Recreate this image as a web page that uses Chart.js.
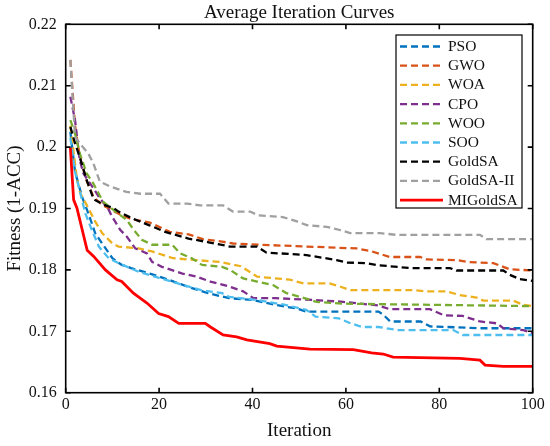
<!DOCTYPE html>
<html>
<head>
<meta charset="utf-8">
<script src="https://cdn.jsdelivr.net/npm/chart.js@4.4.1/dist/chart.umd.min.js"></script>
<style>
  body { margin: 0; background: #fff; }
  #wrap { width: 550px; height: 446px; position: relative; }
</style>
</head>
<body>
<div id="wrap"><canvas id="myChart"></canvas></div>
<script>
// values (iteration, fitness)
const psoIt = [1, 2, 3.5, 5, 6.3, 7.8, 10, 12, 14, 18, 22, 26, 30.5, 35, 40, 45, 49.5, 51.5, 67, 68, 69.5, 76, 78, 89, 100];
const psoFit = [0.2025, 0.196, 0.1919, 0.1889, 0.186, 0.1843, 0.1819, 0.1808, 0.1803, 0.1794, 0.1784, 0.1773, 0.1762, 0.1754, 0.1751, 0.1743, 0.1737, 0.1732, 0.1732, 0.1727, 0.1716, 0.1716, 0.1708, 0.1705, 0.1705];

const gwoIt = [1, 2, 3, 4.5, 6, 8, 10, 12, 14, 18, 20.6, 22.3, 26.3, 29.4, 33.5, 35.8, 41.6, 51.6, 62.3, 65.2, 69.4, 75.9, 77.3, 83.7, 85.9, 91.6, 95.1, 100];
const gwoFit = [0.2142, 0.2035, 0.1985, 0.1945, 0.1918, 0.1905, 0.1897, 0.1889, 0.1883, 0.1877, 0.1868, 0.1862, 0.1858, 0.185, 0.1846, 0.1843, 0.1841, 0.1838, 0.1835, 0.1831, 0.1821, 0.1821, 0.1817, 0.1816, 0.1813, 0.1811, 0.1801, 0.1799];

const woaIt = [1, 2.4, 3.1, 4.9, 6.3, 7.8, 10, 11.3, 15.6, 18.5, 23, 28, 33, 37.5, 41, 48, 51, 56.5, 58.7, 61, 74.5, 77.3, 81.5, 84.4, 88, 89.4, 95.8, 98, 100];
const woaFit = [0.2035, 0.1949, 0.1925, 0.19, 0.1879, 0.186, 0.1843, 0.1838, 0.1835, 0.183, 0.1819, 0.1816, 0.1813, 0.1806, 0.1789, 0.1784, 0.1778, 0.1778, 0.1773, 0.1767, 0.1767, 0.1765, 0.1765, 0.1759, 0.1755, 0.175, 0.175, 0.1743, 0.1741];

const cpoIt = [1, 2, 3, 3.8, 6, 7.1, 9.2, 9.9, 11.7, 13.1, 14.9, 17.4, 18.5, 20.6, 25, 28, 31, 35, 38, 40.2, 45, 53, 59.4, 67, 69.4, 78, 81, 85, 88.7, 92.3, 93.7, 98, 100];
const cpoFit = [0.2082, 0.2044, 0.1979, 0.1957, 0.1932, 0.1919, 0.1898, 0.1887, 0.1865, 0.1854, 0.1835, 0.1827, 0.1813, 0.1805, 0.1794, 0.1789, 0.1781, 0.1773, 0.1765, 0.1754, 0.1754, 0.1751, 0.1748, 0.1742, 0.1736, 0.1736, 0.1726, 0.1725, 0.1716, 0.1713, 0.1705, 0.1702, 0.1697];

const wooIt = [1, 2, 3, 4.5, 5.9, 8, 11, 13.1, 14.6, 16.3, 18.5, 22.8, 24.5, 27, 29.2, 33.5, 35.2, 38, 41, 44.5, 47.3, 50.2, 53.7, 59.4, 100];
const wooFit = [0.2044, 0.2022, 0.199, 0.1957, 0.1941, 0.1911, 0.1893, 0.1881, 0.1865, 0.1849, 0.1841, 0.1841, 0.1827, 0.1819, 0.1808, 0.1805, 0.18, 0.1786, 0.1781, 0.1775, 0.1762, 0.1756, 0.1748, 0.1745, 0.1741];

const sooIt = [1, 2, 4.2, 5.6, 7.1, 9.2, 11.3, 15.6, 20, 24, 29, 33.5, 35, 41, 47, 51.5, 53.5, 58.5, 61, 63.5, 67, 71, 83, 85, 100];
const sooFit = [0.2015, 0.196, 0.1892, 0.1865, 0.1838, 0.1819, 0.1811, 0.1797, 0.1787, 0.1778, 0.1767, 0.1762, 0.1756, 0.1751, 0.1743, 0.1735, 0.1724, 0.1721, 0.1713, 0.1707, 0.1707, 0.1702, 0.1702, 0.1694, 0.1694];

const goldIt = [1, 2, 3, 4.5, 6, 8.5, 10.2, 11.3, 14.2, 17.8, 21.3, 26.3, 30.6, 35.2, 41, 43, 48, 51.6, 58, 60.2, 64.5, 66.6, 69.4, 73.7, 82.3, 83.7, 93.7, 95.1, 97.2, 100];
const goldFit = [0.2033, 0.2006, 0.1984, 0.1946, 0.1915, 0.1905, 0.1901, 0.1895, 0.1884, 0.1873, 0.1862, 0.1851, 0.1845, 0.1838, 0.1838, 0.1828, 0.1826, 0.1824, 0.1816, 0.1812, 0.1811, 0.1808, 0.1806, 0.1803, 0.1803, 0.1799, 0.1799, 0.1792, 0.1785, 0.1782];

const gold2It = [1, 2, 3, 4.8, 5.9, 7.3, 9.5, 13, 16, 20.2, 22, 26, 28.8, 33.7, 35.8, 39.5, 41.2, 46.5, 49.5, 51.6, 55.9, 58.7, 60.9, 67.3, 70.9, 88.7, 90.1, 100];
const gold2Fit = [0.2142, 0.2017, 0.2006, 0.199, 0.1974, 0.1944, 0.1936, 0.1927, 0.1924, 0.1924, 0.1908, 0.1908, 0.1905, 0.1905, 0.1895, 0.1895, 0.1889, 0.1886, 0.1879, 0.1873, 0.187, 0.1865, 0.186, 0.186, 0.1857, 0.1857, 0.185, 0.185];

const migoldIt = [1, 1.7, 2.4, 4.6, 6, 8.5, 11, 12, 14.5, 17.4, 19.9, 22, 24.2, 29.9, 31, 33.7, 36.6, 38.8, 43.7, 45.2, 52.3, 61.6, 65.5, 68, 70.1, 84.4, 88.7, 89.8, 93.7, 100];
const migoldFit = [0.1999, 0.1914, 0.1901, 0.1832, 0.1822, 0.18, 0.1784, 0.1781, 0.1762, 0.1746, 0.1729, 0.1724, 0.1713, 0.1713, 0.1707, 0.1694, 0.1691, 0.1686, 0.168, 0.1676, 0.1671, 0.167, 0.1665, 0.1663, 0.1658, 0.1656, 0.1653, 0.1645, 0.1643, 0.1643];

const labels = ["PSO", "GWO", "WOA", "CPO", "WOO", "SOO", "GoldSA", "GoldSA-II", "MIGoldSA"];
const colors = ["#0072BD", "#D95319", "#EDB120", "#7E2F8E", "#77AC30", "#4DBEEE", "#000000", "#A0A0A0", "#FF0000"];
const xTicks = [0, 20, 40, 60, 80, 100];
const yTicks = [0.16, 0.17, 0.18, 0.19, 0.2, 0.21, 0.22];

const serif = "'Liberation Serif', 'Times New Roman', serif";

function pts(xs, ys) {
    return xs.map((v, i) => ({ x: v, y: ys[i] }));
}

const series = [
    pts(psoIt, psoFit), pts(gwoIt, gwoFit), pts(woaIt, woaFit),
    pts(cpoIt, cpoFit), pts(wooIt, wooFit), pts(sooIt, sooFit),
    pts(goldIt, goldFit), pts(gold2It, gold2Fit), pts(migoldIt, migoldFit)
];

const datasets = series.map((d, i) => {
    const solid = labels[i] === "MIGoldSA";
    return {
        label: labels[i],
        data: d,
        borderColor: colors[i],
        borderWidth: solid ? 2.8 : 2.3,
        borderDash: solid ? [] : [7, 4],
        pointRadius: 0,
        tension: 0,
        fill: false,
        order: labels.length - i
    };
});

// MATLAB style box with inward ticks + legend inside the axes
const boxPlugin = {
    id: "box",
    afterDraw(chart) {
        const { ctx, chartArea: a, scales } = chart;
        ctx.save();
        ctx.strokeStyle = "#000";
        ctx.lineWidth = 1.6;
        ctx.strokeRect(a.left, a.top, a.right - a.left, a.bottom - a.top);
        ctx.beginPath();
        xTicks.forEach(v => {
            const px = scales.x.getPixelForValue(v);
            ctx.moveTo(px, a.bottom); ctx.lineTo(px, a.bottom - 5);
            ctx.moveTo(px, a.top); ctx.lineTo(px, a.top + 5);
        });
        yTicks.forEach(v => {
            const py = scales.y.getPixelForValue(v);
            ctx.moveTo(a.left, py); ctx.lineTo(a.left + 5, py);
            ctx.moveTo(a.right, py); ctx.lineTo(a.right - 5, py);
        });
        ctx.stroke();

        // legend
        const lx = 396, ly = 35, lw = 126, lh = 173;
        ctx.fillStyle = "#fff";
        ctx.fillRect(lx, ly, lw, lh);
        ctx.lineWidth = 1.2;
        ctx.strokeRect(lx, ly, lw, lh);
        ctx.font = "15.5px " + serif;
        ctx.textBaseline = "middle";
        ctx.textAlign = "left";
        chart.data.datasets.forEach((ds, i) => {
            const yy = ly + 11.5 + i * 19.2;
            ctx.strokeStyle = ds.borderColor;
            ctx.lineWidth = ds.borderWidth;
            ctx.setLineDash(ds.borderDash);
            ctx.beginPath();
            ctx.moveTo(lx + 4, yy);
            ctx.lineTo(lx + 47, yy);
            ctx.stroke();
            ctx.setLineDash([]);
            ctx.fillStyle = "#111";
            ctx.fillText(ds.label, lx + 52, yy + 0.5);
        });
        ctx.restore();
    }
};

new Chart("myChart", {
    type: "line",
    data: { datasets: datasets },
    options: {
        responsive: true,
        maintainAspectRatio: false,
        animation: false,
        layout: { padding: { left: 0, right: 17.3, top: 0, bottom: 0 } },
        plugins: {
            legend: { display: false },
            tooltip: { enabled: false },
            title: {
                display: true,
                text: "Average Iteration Curves",
                fullSize: false,
                color: "#111",
                font: { family: serif, size: 19, weight: "normal", lineHeight: 1.1 },
                padding: { top: 3, bottom: 0.4 }
            }
        },
        scales: {
            x: {
                type: "linear",
                min: 0,
                max: 100,
                afterBuildTicks: s => { s.ticks = xTicks.map(v => ({ value: v })); },
                afterFit: s => { s.height = 53.3; },
                grid: { display: false, drawTicks: false },
                border: { display: false },
                ticks: { color: "#111", padding: 2, font: { family: serif, size: 16 } },
                title: {
                    display: true,
                    text: "Iteration",
                    color: "#111",
                    font: { family: serif, size: 19, lineHeight: 1.1 },
                    padding: { top: 0, bottom: 4.5 }
                }
            },
            y: {
                min: 0.16,
                max: 0.22,
                afterBuildTicks: s => { s.ticks = yTicks.map(v => ({ value: v })); },
                afterFit: s => { s.width = 65.7; },
                grid: { display: false, drawTicks: false },
                border: { display: false },
                ticks: {
                    color: "#111",
                    padding: 9,
                    font: { family: serif, size: 16 },
                    callback: v => String(Math.round(v * 100) / 100)
                },
                title: {
                    display: true,
                    text: "Fitness (1-ACC)",
                    color: "#111",
                    font: { family: serif, size: 19, lineHeight: 1.1 },
                    padding: { top: 5, bottom: 0 }
                }
            }
        }
    },
    plugins: [boxPlugin]
});
</script>
</body>
</html>
